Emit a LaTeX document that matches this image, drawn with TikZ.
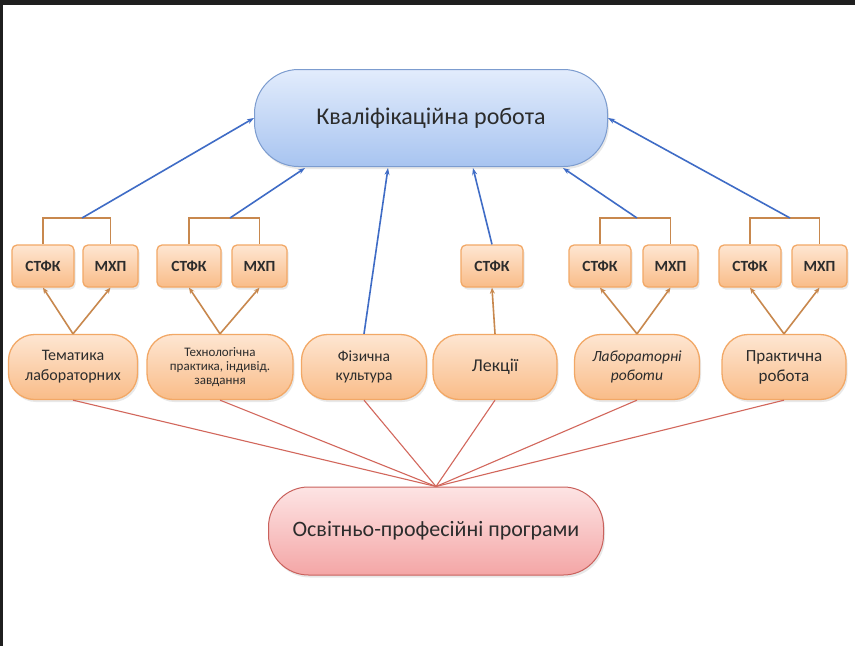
\documentclass[tikz,border=0pt]{standalone}
\usepackage{fontspec}
\setmainfont{Carlito}
\usetikzlibrary{arrows.meta,shadows}
\definecolor{txt}{HTML}{2C2C2C}
\definecolor{blueln}{HTML}{3F6CC6}
\definecolor{orln}{HTML}{C8884E}
\definecolor{redln}{HTML}{D2675C}
\definecolor{orbd}{HTML}{F2A866}
\definecolor{ortop}{HTML}{FEE6D2}
\definecolor{orbot}{HTML}{F9BC88}
\definecolor{bltop}{HTML}{E2ECFC}
\definecolor{blbot}{HTML}{A8C4F0}
\definecolor{blbd}{HTML}{7C9CCF}
\definecolor{rdtop}{HTML}{FDE4E4}
\definecolor{rdbot}{HTML}{F4A6A6}
\definecolor{rdbd}{HTML}{C9615C}
\begin{document}
\begin{tikzpicture}[x=1pt,y=-1pt,
  shd/.style={drop shadow={opacity=0.18,shadow xshift=1.5pt,shadow yshift=-2.5pt}},
  topnode/.style={draw=blbd,line width=1pt,rounded corners=44pt,top color=bltop,bottom color=blbot,
    minimum width=353pt,minimum height=97pt,text=txt,font=\fontsize{24}{26}\selectfont,shd},
  botnode/.style={draw=rdbd,line width=1pt,rounded corners=40pt,top color=rdtop,bottom color=rdbot,
    minimum width=335pt,minimum height=88pt,text=txt,font=\fontsize{22}{24}\selectfont,shd},
  midnode/.style={draw=orbd,line width=1.3pt,rounded corners=26pt,top color=ortop,bottom color=orbot,
    minimum height=65pt,text=txt,align=center,inner sep=2pt,shd},
  smallbox/.style={draw=orbd,line width=1.3pt,rounded corners=5pt,top color=ortop,bottom color=orbot,
    minimum height=42pt,text=txt,font=\fontsize{15.5}{16}\selectfont\bfseries,inner sep=1pt,shd},
  bl/.style={draw=blueln,line width=1.6pt,-{Stealth[length=7pt,width=5pt]}},
  orar/.style={draw=orln,line width=1.6pt,-{Stealth[length=6pt,width=5pt]}},
  brk/.style={draw=orln,line width=1.6pt},
  rdln/.style={draw=redln,line width=1.1pt}
]
\useasboundingbox (0,0) rectangle (855,646);
\fill[white] (0,0) rectangle (855,646);
\fill[black!88] (0,0) rectangle (855,5);
\fill[black!88] (0,0) rectangle (3,646);

% main nodes
\node[topnode] (top) at (431,118) {Кваліфікаційна робота};
\node[botnode] (bot) at (436,531) {Освітньо-професійні програми};

% second row
\node[midnode,minimum width=129pt,font=\fontsize{16}{20}\selectfont] (n1) at (73,367) {Тематика\\лабораторних};
\node[midnode,minimum width=146pt,font=\fontsize{13}{14}\selectfont] (n2) at (220,367) {Технологічна\\практика, індивід.\\завдання};
\node[midnode,minimum width=125pt,font=\fontsize{15.5}{19}\selectfont] (n3) at (364,367) {Фізична\\культура};
\node[midnode,minimum width=124pt,font=\fontsize{18}{20}\selectfont] (n4) at (495,367) {Лекції};
\node[midnode,minimum width=125pt,font=\fontsize{15.5}{19}\selectfont\itshape] (n5) at (637,367) {Лабораторні\\роботи};
\node[midnode,minimum width=124pt,font=\fontsize{17}{20}\selectfont] (n6) at (784,367) {Практична\\робота};

% small boxes
\node[smallbox,minimum width=62pt] (s1) at (43,266) {СТФК};
\node[smallbox,minimum width=55pt] (m1) at (110.5,266) {МХП};
\node[smallbox,minimum width=64pt] (s2) at (189,266) {СТФК};
\node[smallbox,minimum width=55pt] (m2) at (259.5,266) {МХП};
\node[smallbox,minimum width=62pt] (s3) at (492,266) {СТФК};
\node[smallbox,minimum width=62pt] (s4) at (600,266) {СТФК};
\node[smallbox,minimum width=55pt] (m4) at (670.5,266) {МХП};
\node[smallbox,minimum width=62pt] (s5) at (750,266) {СТФК};
\node[smallbox,minimum width=55pt] (m5) at (819.5,266) {МХП};

% bracket junctions
\coordinate (b1) at (82,218);
\coordinate (b2) at (230,218);
\coordinate (b4) at (637,218);
\coordinate (b5) at (790,218);

\draw[brk] (s1.north) |- (b1) -| (m1.north);
\draw[brk] (s2.north) |- (b2) -| (m2.north);
\draw[brk] (s4.north) |- (b4) -| (m4.north);
\draw[brk] (s5.north) |- (b5) -| (m5.north);

% blue arrows
\draw[bl] (b1) -- (top.west);
\draw[bl] (b2) -- ([xshift=-126pt,yshift=-1pt]top.south);
\draw[bl] (n3.north) -- ([xshift=-43pt,yshift=-1pt]top.south);
\draw[bl] (s3.north) -- ([xshift=42pt,yshift=-1pt]top.south);
\draw[bl] (b4) -- ([xshift=132pt,yshift=-1pt]top.south);
\draw[bl] (b5) -- (top.east);

% orange arrows
\draw[orar] (n1.north) -- (s1.south);
\draw[orar] (n1.north) -- (m1.south);
\draw[orar] (n2.north) -- (s2.south);
\draw[orar] (n2.north) -- (m2.south);
\draw[orar] (n4.north) -- (s3.south);
\draw[orar] (n5.north) -- (s4.south);
\draw[orar] (n5.north) -- (m4.south);
\draw[orar] (n6.north) -- (s5.south);
\draw[orar] (n6.north) -- (m5.south);

% red lines
\foreach \n in {n1,n2,n3,n4,n5,n6}{
  \draw[rdln] (\n.south) -- (bot.north);
}
\end{tikzpicture}
\end{document}
